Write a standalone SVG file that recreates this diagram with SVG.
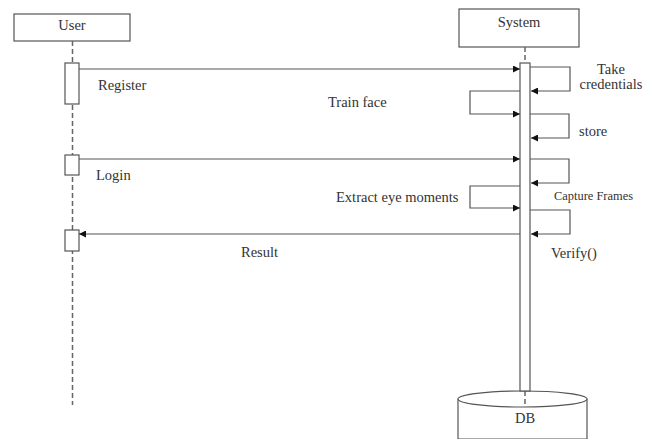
<svg xmlns="http://www.w3.org/2000/svg" width="653" height="439" viewBox="0 0 653 439">
<style>
.box{fill:#fff;stroke:#555;stroke-width:1.2}
.ln{fill:none;stroke:#555;stroke-width:1.2}
.life{fill:none;stroke:#666;stroke-width:1.5;stroke-dasharray:5,3}
text{font-family:"Liberation Serif","Times New Roman",serif;fill:#333;font-size:14.5px}
text.small{font-size:11.5px}
</style>
<defs>
<marker id="ah" viewBox="0 0 10 10" refX="10" refY="5" markerWidth="8" markerHeight="7" markerUnits="userSpaceOnUse" orient="auto">
<path d="M0,0 L10,5 L0,10 z" fill="#111"/>
</marker>
</defs>
<rect width="653" height="439" fill="#fff"/>
<g id="user">
<rect class="box" x="14" y="14" width="116" height="27"/>
<text x="72" y="30" text-anchor="middle">User</text>
<line class="life" x1="72.5" y1="41" x2="72.5" y2="405"/>
<rect class="box" x="65" y="63" width="14" height="41"/>
<rect class="box" x="65" y="155" width="14" height="20"/>
<rect class="box" x="65" y="230" width="14" height="21"/>
</g>
<g id="system">
<rect class="box" x="459" y="9" width="120" height="38"/>
<text x="519" y="27" text-anchor="middle">System</text>
<line class="life" x1="525" y1="47" x2="525" y2="63"/>
</g>
<g id="db">
<path class="box" d="M458,399 L458,439 L587,439 L587,399"/>
<ellipse class="box" cx="522.5" cy="399" rx="64.5" ry="8"/>
<line class="life" x1="525" y1="391" x2="525" y2="407" stroke-width="1.2"/>
<text x="525" y="423" text-anchor="middle">DB</text>
</g>
<g id="system-activation">
<rect class="box" x="520" y="63" width="10" height="328"/>
</g>
<g id="connectors">
<line class="ln" x1="79" y1="69" x2="520" y2="69" marker-end="url(#ah)"/>
<path class="ln" d="M530,67 H570 V91 H531" marker-end="url(#ah)"/>
<path class="ln" d="M520,91 H470 V114 H520" marker-end="url(#ah)"/>
<path class="ln" d="M530,114 H569 V138 H531" marker-end="url(#ah)"/>
<line class="ln" x1="79" y1="159" x2="520" y2="159" marker-end="url(#ah)"/>
<path class="ln" d="M530,159 H569 V183 H531" marker-end="url(#ah)"/>
<path class="ln" d="M520,186 H470 V208 H520" marker-end="url(#ah)"/>
<path class="ln" d="M530,210 H570 V234 H531" marker-end="url(#ah)"/>
<line class="ln" x1="520" y1="234" x2="79" y2="234" marker-end="url(#ah)"/>
</g>
<g id="labels">
<text x="98" y="90">Register</text>
<text x="611" y="74" text-anchor="middle">Take</text>
<text x="611" y="89" text-anchor="middle">credentials</text>
<text x="328" y="107">Train face</text>
<text x="579" y="136">store</text>
<text x="96" y="180">Login</text>
<text x="336" y="202">Extract eye moments</text>
<text class="small" x="554" y="200" textLength="79" lengthAdjust="spacingAndGlyphs">Capture Frames</text>
<text x="551" y="258">Verify()</text>
<text x="241" y="257">Result</text>
</g>
</svg>
